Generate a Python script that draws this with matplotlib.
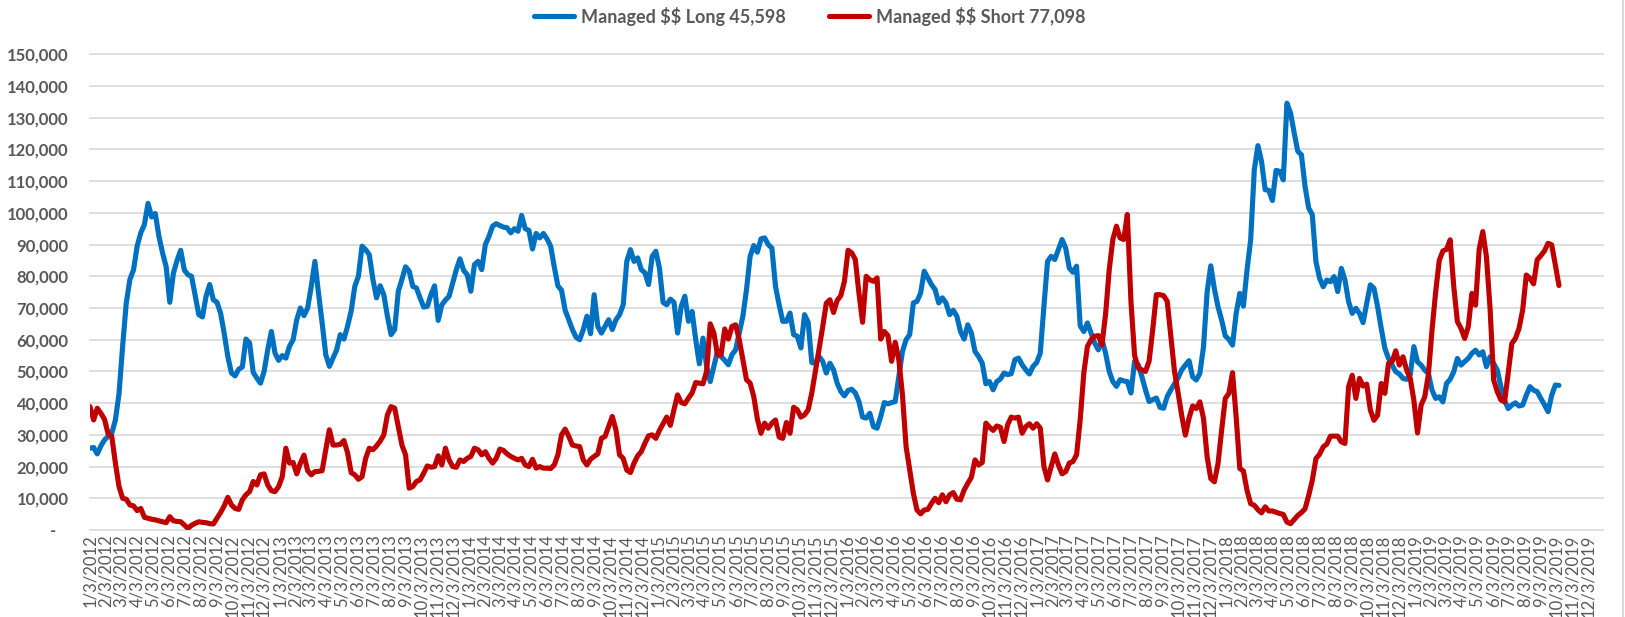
import matplotlib
matplotlib.use('Agg')
import matplotlib.pyplot as plt
import matplotlib.dates as mdates
from matplotlib.ticker import FuncFormatter, MultipleLocator
from matplotlib.lines import Line2D
import numpy as np
import pandas as pd

plt.rcParams['font.family'] = ['Lato', 'DejaVu Sans']

# ---- data (weekly, thousands of contracts) ----
start_date = '2012-01-03'
end_axis = '2020-01-01'

long_k = [
    25.8, 26.0, 24.0, 26.5, 28.4, 29.5, 30.5, 34.7, 43.0, 58.0,
    71.6, 79.0, 82.0, 89.5, 93.7, 96.3, 103.0, 98.7, 99.8, 92.6,
    87.4, 83.0, 71.8, 81.0, 85.0, 88.2, 82.0, 80.5, 80.0, 74.0,
    67.9, 67.2, 73.7, 77.4, 72.6, 71.8, 68.4, 62.0, 54.7, 49.5,
    48.6, 50.7, 51.4, 60.2, 59.0, 49.7, 47.9, 46.3, 50.0, 56.8,
    62.6, 55.8, 53.5, 55.0, 54.2, 57.9, 60.0, 66.3, 70.0, 67.6,
    70.0, 76.8, 84.7, 74.7, 65.3, 55.3, 51.6, 54.2, 56.8, 61.6,
    60.2, 64.2, 69.0, 76.8, 80.0, 89.5, 88.4, 86.8, 79.0, 73.2,
    77.0, 74.2, 67.4, 61.6, 63.2, 75.3, 79.0, 83.0, 81.6, 76.8,
    76.3, 73.2, 70.3, 70.5, 74.2, 77.0, 66.1, 71.0, 72.5, 73.7,
    77.9, 82.1, 85.5, 81.9, 80.5, 75.3, 83.7, 84.7, 82.1, 90.0,
    92.6, 95.8, 96.6, 96.0, 95.5, 95.3, 93.7, 95.0, 94.2, 99.2,
    95.0, 94.5, 88.6, 93.5, 92.1, 93.5, 91.8, 89.5, 83.0, 77.0,
    75.6, 69.3, 66.3, 63.2, 60.8, 60.0, 63.2, 67.4, 61.9, 74.2,
    64.2, 62.1, 64.2, 66.3, 63.2, 66.3, 67.9, 71.0, 84.7, 88.4,
    84.7, 85.8, 82.1, 81.1, 77.4, 86.3, 87.9, 82.6, 71.8, 71.0,
    72.8, 71.8, 62.1, 70.5, 73.7, 65.8, 68.9, 60.0, 52.4, 60.5,
    51.6, 46.8, 51.6, 56.3, 54.7, 53.5, 52.1, 55.3, 56.8, 62.1,
    67.4, 75.8, 86.3, 89.7, 87.6, 91.8, 92.1, 90.0, 88.9, 76.8,
    71.0, 65.8, 65.8, 68.4, 61.6, 61.1, 57.4, 67.9, 65.5, 52.8,
    52.6, 54.7, 53.2, 49.5, 52.6, 50.5, 46.3, 43.7, 42.3, 44.0,
    44.4, 43.2, 40.5, 35.6, 35.3, 36.8, 32.6, 32.1, 35.8, 40.2,
    39.8, 40.2, 40.5, 48.4, 56.3, 60.0, 61.6, 71.6, 72.1, 74.7,
    81.6, 79.5, 77.4, 75.8, 71.6, 73.2, 71.6, 67.9, 69.3, 67.4,
    62.6, 60.2, 64.7, 62.1, 56.3, 54.7, 52.6, 46.1, 46.8, 44.2,
    46.8, 47.6, 49.5, 49.0, 49.3, 53.7, 54.2, 52.1, 50.5, 49.2,
    51.6, 52.8, 55.8, 70.5, 84.7, 86.3, 85.3, 88.4, 91.6, 88.9,
    82.6, 81.3, 83.2, 64.4, 62.6, 65.3, 62.1, 58.9, 56.8, 60.0,
    55.8, 50.0, 46.8, 45.3, 47.4, 47.0, 46.8, 43.2, 53.2, 52.1,
    48.4, 44.2, 40.5, 41.1, 41.6, 38.7, 38.4, 42.1, 44.2, 46.1,
    48.0, 50.5, 52.0, 53.4, 48.3, 47.3, 49.4, 57.8, 75.0, 83.3,
    76.0, 70.4, 66.2, 61.2, 60.1, 58.3, 68.3, 74.6, 70.6, 82.0,
    91.5, 113.6, 121.2, 116.2, 107.3, 107.1, 103.9, 113.4, 113.1, 110.4,
    134.6, 131.5, 125.2, 119.4, 118.3, 108.3, 101.5, 99.4, 84.6, 79.4,
    76.7, 78.8, 78.3, 79.9, 75.2, 82.5, 78.8, 72.0, 68.3, 69.9,
    68.3, 65.4, 71.5, 77.3, 76.2, 70.4, 63.6, 57.3, 54.1, 52.0,
    49.9, 49.2, 47.8, 47.5, 49.0, 57.8, 53.0, 52.0, 50.4, 49.4,
    44.1, 41.5, 42.0, 40.4, 46.2, 47.5, 49.9, 54.1, 52.0, 53.1,
    54.1, 55.7, 56.7, 55.2, 56.2, 51.5, 54.6, 52.5, 50.4, 45.2,
    40.9, 38.3, 39.4, 40.1, 39.1, 39.4, 42.5, 45.2, 44.1, 43.6,
    41.5, 39.5, 37.3, 42.5, 45.7, 45.598,
]

short_k = [
    38.9, 34.7, 38.4, 36.8, 34.9, 30.3, 29.5, 21.1, 13.7, 10.0,
    9.7, 7.9, 7.6, 6.1, 6.8, 4.0, 3.7, 3.4, 3.2, 2.9,
    2.6, 2.3, 4.2, 2.9, 2.7, 2.6, 1.6, 0.5, 1.5, 2.1,
    2.6, 2.4, 2.3, 2.0, 1.9, 3.7, 5.5, 7.6, 10.3, 7.9,
    6.8, 6.5, 9.5, 11.1, 12.1, 15.3, 14.2, 17.4, 17.7, 14.2,
    12.4, 12.1, 13.7, 16.8, 25.8, 21.1, 21.3, 17.7, 21.1, 23.6,
    18.7, 17.4, 18.4, 18.5, 18.7, 25.3, 31.6, 26.8, 26.8, 27.0,
    28.2, 24.4, 18.1, 17.4, 16.0, 16.8, 22.6, 25.8, 25.3, 26.5,
    28.0, 30.0, 36.3, 38.9, 38.4, 32.6, 26.8, 23.7, 13.2, 13.7,
    15.3, 15.8, 17.9, 20.2, 19.8, 20.0, 23.4, 20.5, 25.8, 22.1,
    20.0, 19.8, 22.1, 21.6, 22.6, 23.2, 25.8, 25.3, 23.7, 24.7,
    22.6, 21.1, 22.6, 25.5, 25.1, 24.0, 23.2, 22.6, 22.1, 22.6,
    20.5, 20.0, 22.3, 19.5, 20.0, 19.5, 19.5, 19.4, 20.5, 23.7,
    30.0, 31.8, 29.5, 26.8, 26.5, 26.3, 22.1, 20.5, 22.3, 23.2,
    24.0, 28.9, 29.5, 32.6, 35.8, 31.6, 23.7, 22.6, 18.9, 18.1,
    21.1, 23.4, 24.7, 27.4, 29.7, 30.0, 28.9, 31.4, 33.5, 35.6,
    33.0, 37.9, 42.6, 40.2, 39.8, 41.6, 43.2, 46.5, 46.3, 46.1,
    50.0, 65.0, 62.1, 55.3, 55.3, 63.4, 60.2, 64.2, 64.7, 60.0,
    53.7, 47.4, 46.3, 42.1, 35.0, 30.5, 33.7, 32.1, 33.7, 34.7,
    29.3, 28.9, 33.9, 30.5, 38.7, 37.9, 35.6, 36.3, 37.9, 43.2,
    50.0, 57.0, 64.0, 71.5, 72.6, 68.6, 72.4, 73.9, 78.4, 88.2,
    87.4, 85.3, 74.7, 65.5, 80.0, 78.9, 78.4, 79.5, 60.2, 62.6,
    61.3, 53.2, 59.2, 53.7, 42.6, 26.3, 18.9, 11.6, 6.3, 5.1,
    6.3, 6.5, 8.4, 10.0, 8.6, 11.1, 8.9, 11.1, 11.8, 9.7,
    9.5, 12.6, 14.7, 16.6, 22.1, 20.5, 21.3, 33.7, 32.4, 31.4,
    32.8, 32.4, 27.9, 33.2, 35.6, 35.3, 35.6, 30.5, 32.6, 33.5,
    32.1, 33.5, 32.1, 20.0, 15.8, 20.0, 24.0, 20.5, 17.7, 18.4,
    21.1, 21.6, 23.7, 34.7, 49.5, 57.9, 60.0, 61.1, 61.3, 58.4,
    68.0, 82.0, 91.6, 95.8, 92.1, 91.6, 99.5, 72.0, 55.0, 51.1,
    50.5, 50.0, 53.2, 63.2, 74.2, 74.2, 73.9, 72.1, 61.1, 50.0,
    43.2, 36.0, 29.9, 35.2, 39.1, 38.3, 40.4, 35.2, 23.1, 16.2,
    15.2, 20.9, 31.5, 41.5, 43.1, 49.6, 35.7, 19.4, 18.6, 12.5,
    8.3, 7.8, 6.4, 5.4, 7.3, 6.0, 6.0, 5.6, 5.2, 4.9,
    2.5, 2.0, 3.3, 4.6, 5.5, 6.7, 10.9, 15.7, 22.5, 23.9,
    26.2, 27.1, 29.6, 29.6, 29.6, 27.8, 27.3, 45.2, 48.8, 41.5,
    47.8, 45.4, 46.0, 37.8, 34.6, 36.2, 46.2, 43.1, 52.5, 53.1,
    56.5, 52.0, 54.6, 50.5, 47.8, 40.9, 30.6, 39.4, 42.0, 49.0,
    63.0, 75.0, 85.0, 88.0, 88.5, 91.5, 76.7, 65.7, 63.6, 60.4,
    64.1, 74.6, 70.9, 88.5, 94.1, 86.2, 70.0, 47.3, 43.6, 41.0,
    40.4, 49.4, 58.8, 60.4, 63.6, 69.4, 80.4, 79.4, 77.6, 85.2,
    86.5, 88.0, 90.4, 89.9, 83.6, 77.098,
]

long_label = r'Managed \$\$ Long 45,598'
short_label = r'Managed \$\$ Short 77,098'

y_max = 150000
y_step = 10000

# ---- build ----
dates = pd.date_range(start_date, periods=len(long_k), freq='7D')
long_vals = np.array(long_k) * 1000
short_vals = np.array(short_k) * 1000

BLUE = '#0070C0'
RED = '#C00000'
GRAY_TXT = '#595959'
GRID = '#D9D9D9'

W, H = 1625, 617
fig = plt.figure(figsize=(W / 100, H / 100), dpi=100)
left, right, top, bottom = 90, 1603, 54.3, 530
ax = fig.add_axes([left / W, 1 - bottom / H, (right - left) / W, (bottom - top) / H])

lw = 3.7
ax.plot(dates, long_vals, color=BLUE, lw=lw, solid_joinstyle='round',
        solid_capstyle='round', label=long_label, zorder=3)
ax.plot(dates, short_vals, color=RED, lw=lw, solid_joinstyle='round',
        solid_capstyle='round', label=short_label, zorder=3)

ax.set_ylim(0, y_max)
ax.yaxis.set_major_locator(MultipleLocator(y_step))
ax.yaxis.set_major_formatter(FuncFormatter(
    lambda v, p: '-   ' if abs(v) < 1e-9 else f'{int(round(v)):,}'))

ax.set_xlim(pd.Timestamp(start_date), pd.Timestamp(end_axis))
ax.xaxis.set_major_locator(mdates.MonthLocator(bymonthday=3))


def date_fmt(x, pos):
    d = mdates.num2date(x)
    return f'{d.month}/{d.day}/{d.year}'


ax.xaxis.set_major_formatter(FuncFormatter(date_fmt))

ax.grid(axis='y', color=GRID, lw=1.2, clip_on=False)
ax.grid(axis='x', visible=False)
ax.set_axisbelow(True)
for s in ax.spines.values():
    s.set_visible(False)

ax.tick_params(axis='x', length=0, labelrotation=90, labelsize=12,
               labelcolor=GRAY_TXT, pad=3)
ax.tick_params(axis='y', length=0, labelsize=12, labelcolor=GRAY_TXT, pad=15.5)
plt.setp(ax.get_yticklabels(), fontweight='bold')

handles = [Line2D([], [], color=BLUE, lw=lw, solid_capstyle='round'),
           Line2D([], [], color=RED, lw=lw, solid_capstyle='round')]
fig.legend(handles, [long_label, short_label], loc='center',
           bbox_to_anchor=(810 / W, 1 - 16 / H), ncol=2, frameon=False,
           prop={'weight': 'bold', 'size': 13}, labelcolor=GRAY_TXT,
           handlelength=2.2, handletextpad=0.4, columnspacing=2.4,
           borderpad=0, borderaxespad=0)

fig.add_artist(Line2D([1622.5 / W, 1622.5 / W], [0, 1], transform=fig.transFigure,
                      color=GRID, lw=1.5))

fig.savefig('out.png', dpi=100, facecolor='white')
